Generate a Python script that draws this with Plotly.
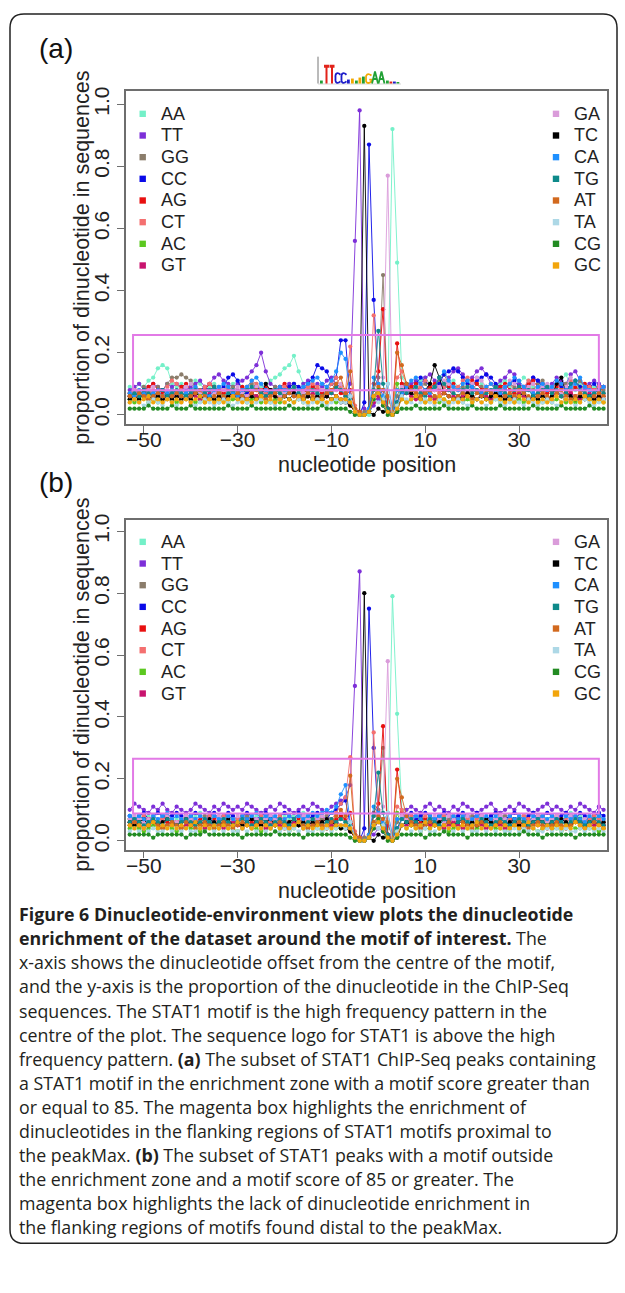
import plotly.graph_objects as go

W, H = 625, 1293

# ---------------- data ----------------
positions = list(range(-53, 49))  # nucleotide offsets
dinucs = ["AA", "TT", "GG", "CC", "AG", "CT", "AC", "GT",
          "GA", "TC", "CA", "TG", "AT", "TA", "CG", "GC"]
colors = ["#74F0C8", "#7D2FD8", "#8B7D6B", "#0A0AE8", "#E81010", "#F47070", "#5CC820", "#C8146E",
          "#DA9CDA", "#000000", "#1E90FF", "#0E8A8A", "#D2691E", "#ADD8E6", "#228B22", "#F2A50C"]

# panel (a): proportion x100
AA_a = [9,8,10,9,11,12,15,16,15,10, 9,10,8,9,11,10,8,9,10,9, 8,9,10,11,9,8,9,10,9,10, 11,12,13,15,16,19,14,10,9,8, 9,10,9,8,10,9,
        7,5,2,0,0,0,4,6,5,4,92,49,12,
        10,9,8,11,12,10,9,8,9,10, 11,9,8,10,9,12,10,9,8,9, 10,11,9,8,10,12,11,9,8,10, 9,8,10,11,13,9,8,10,9,8, 9,10,9]
TT_a = [8,9,10,8,9,10,9,8,10,9, 10,9,8,9,10,11,9,10,12,13, 11,10,9,10,11,12,14,16,20,14, 10,9,8,9,10,9,8,10,11,9, 10,9,11,12,10,9,
        6,10,56,98,2,1,3,5,4,6,2,2,8,
        9,10,11,10,12,13,11,10,9,12, 14,15,13,11,12,14,15,13,10,9, 11,12,14,13,10,9,10,12,11,10, 9,10,12,11,10,13,14,11,9,10, 11,10,9]
GG_a = [7,8,7,9,8,7,9,8,10,12, 12,13,12,11,9,8,7,8,9,8, 7,8,9,8,7,9,10,9,8,7, 8,9,8,7,9,10,8,7,8,9, 8,7,9,10,8,9,
        8,5,1,0,1,2,8,12,45,2,1,6,10,
        9,8,7,9,10,8,9,11,13,10, 9,8,9,7,8,10,9,8,7,9, 8,9,10,9,8,7,9,8,10,11, 9,8,7,9,10,8,9,11,9,8, 8,9,8]
CC_a = [6,7,6,8,7,6,7,8,7,6, 7,8,7,6,7,8,9,8,7,8, 9,12,13,11,8,7,8,9,8,7, 8,7,9,8,9,10,9,8,10,12, 16,15,14,10,12,24,
        24,5,1,0,4,87,37,10,3,2,1,4,8,
        9,8,10,12,11,9,8,10,13,14, 15,14,12,10,9,11,12,13,12,10, 9,8,10,11,9,8,10,12,11,9, 8,9,10,9,8,10,11,9,8,9, 10,8,9]
AG_a = [7,8,6,7,9,10,8,7,6,8, 7,9,10,8,7,6,8,10,9,8, 7,8,6,7,9,8,7,6,8,9, 8,7,9,10,8,7,6,8,7,9, 8,7,6,8,9,7,
        6,8,2,1,0,1,10,14,34,2,1,23,10,
        8,9,10,7,8,9,10,8,7,9, 10,8,7,9,11,10,8,9,7,8, 9,10,8,7,9,8,10,11,9,8, 7,8,9,10,8,7,9,8,10,9, 8,7,9]
CT_a = [6,7,8,6,7,8,7,6,9,11, 10,8,7,6,8,7,9,10,8,7, 8,9,7,6,8,9,11,10,8,7, 6,8,7,9,8,7,6,8,9,10, 9,8,7,10,12,9,
        8,22,3,1,0,2,32,10,6,1,2,12,14,
        10,8,7,9,11,10,8,7,9,10, 8,9,11,12,10,8,7,9,10,8, 7,9,10,8,7,9,11,10,8,7, 8,9,10,8,9,11,10,8,7,9, 8,9,7]
AC_a = [5,4,5,6,4,5,4,5,6,5, 4,5,6,5,4,5,4,6,5,4, 5,4,5,6,5,4,5,6,4,5, 4,5,4,6,5,4,5,4,6,5, 4,5,6,5,4,5,
        5,4,1,0,0,1,6,8,5,1,0,10,5,
        4,5,6,5,4,5,6,4,5,4, 5,6,4,5,4,5,6,5,4,5, 4,5,6,4,5,4,5,6,5,4, 5,4,5,6,4,5,4,5,6,5, 4,5,4]
GT_a = [6,5,7,6,5,6,7,5,6,7, 6,5,6,7,6,5,6,7,8,6, 5,6,7,6,5,6,7,6,5,6, 7,6,5,6,7,8,6,5,6,7, 6,5,6,7,6,5,
        5,3,1,0,0,1,4,6,8,1,0,2,6,
        7,6,5,6,7,6,5,6,7,8, 6,5,6,7,6,5,7,6,5,6, 7,6,5,6,7,6,5,6,7,6, 5,6,7,6,5,7,6,5,6,7, 6,5,6]
GA_a = [7,8,6,7,8,9,7,6,8,7, 8,7,9,10,8,7,6,8,7,9, 8,7,8,9,7,6,8,9,10,8, 7,8,6,7,8,9,8,7,6,8, 7,8,9,7,8,10,
        6,4,1,0,0,1,5,8,12,77,1,2,9,
        8,7,9,10,8,7,8,9,11,10, 9,8,7,9,10,12,11,9,8,7, 8,9,11,10,8,7,9,10,8,9, 10,9,8,7,9,12,10,8,9,8, 7,8,9]
TC_a = [5,6,5,7,6,5,6,5,6,5, 6,5,6,5,7,6,5,6,5,6, 5,6,7,5,6,5,6,5,6,10, 8,6,5,6,5,7,6,5,6,5, 6,5,6,5,6,4,
        4,3,1,0,93,1,0,2,1,1,0,1,6,
        10,7,6,5,8,10,16,12,7,6, 5,6,5,7,6,5,6,5,6,7, 6,5,6,5,6,7,5,6,5,6, 5,6,10,12,7,6,5,6,5,6, 5,6,5]
CA_a = [7,6,8,7,6,7,8,6,7,8, 7,6,7,8,9,8,7,6,8,9, 10,9,7,6,8,9,11,12,10,8, 7,8,9,8,7,6,8,9,10,11, 12,10,9,11,14,20,
        18,6,1,0,0,2,12,10,6,10,2,8,7,
        9,11,12,10,8,7,9,12,14,11, 9,8,10,11,9,8,7,9,10,8, 7,9,10,12,11,9,8,7,9,10, 8,9,11,10,8,9,10,12,9,8, 7,8,9]
TG_a = [6,7,6,8,7,6,7,8,6,7, 8,7,6,7,8,6,7,8,9,7, 6,7,8,7,6,8,9,8,7,6, 7,8,7,6,8,9,7,6,7,8, 7,6,8,7,9,8,
        6,5,1,0,0,1,8,27,10,2,0,4,8,
        7,8,9,7,6,8,9,12,10,8, 7,6,8,9,7,8,6,7,8,9, 8,7,6,8,9,7,8,6,7,8, 9,7,8,6,7,10,11,8,7,6, 7,8,7]
AT_a = [6,5,7,6,5,6,7,6,5,6, 7,6,5,6,7,8,6,5,6,7, 6,5,6,7,6,5,7,8,6,5, 6,7,5,6,7,6,5,6,7,6, 5,6,7,8,10,12,
        7,14,2,1,0,1,6,9,8,6,1,20,16,
        10,8,7,6,7,8,6,5,7,6, 5,6,7,6,5,7,6,8,7,6, 5,6,7,6,8,7,6,5,6,7, 6,5,7,8,6,5,6,7,6,5, 6,7,6]
TA_a = [4,5,4,3,4,5,4,3,5,4, 3,4,5,4,3,4,5,4,3,4, 5,4,3,4,5,4,3,4,5,4, 4,3,5,4,3,4,5,4,3,4, 5,4,3,4,5,4,
        4,6,1,0,0,1,5,4,5,10,0,3,6,
        5,4,3,4,5,4,3,5,4,3, 4,5,4,3,4,5,4,3,4,5, 4,3,4,5,4,3,5,4,3,4, 5,4,3,4,5,4,3,4,5,4, 3,4,5]
CG_a = [2,2,2,2,3,2,2,2,2,3, 2,2,2,3,2,2,2,2,2,2, 2,3,2,2,2,2,3,2,2,2, 2,2,2,2,3,2,2,2,2,2, 2,3,2,2,2,2,
        2,1,0,0,0,1,5,8,3,0,0,1,2,
        2,2,3,2,2,2,2,2,3,2, 2,2,2,2,3,2,2,2,2,2, 3,2,2,2,2,2,2,3,2,2, 2,2,2,3,2,2,2,2,2,3, 2,2,2]
GC_a = [4,5,4,5,6,4,5,4,5,4, 5,4,5,4,5,6,4,5,4,5, 4,5,6,5,4,5,4,5,6,4, 5,4,5,4,5,4,6,5,4,5, 4,5,4,5,6,5,
        5,4,1,0,0,1,6,7,4,1,0,2,5,
        4,5,6,5,4,5,4,6,5,4, 5,4,5,6,4,5,4,5,4,6, 5,4,5,4,6,5,4,5,4,5, 4,5,6,4,5,4,5,4,6,5, 4,5,4]

# panel (b): proportion x100
AA_b = [7,8,7,6,8,7,9,8,7,8, 7,6,8,7,8,9,7,8,7,6, 8,7,8,7,6,8,7,8,9,7, 8,7,6,8,7,8,7,9,8,7, 8,7,8,9,8,7,
        6,5,2,0,0,1,4,6,5,4,79,41,10,
        8,7,8,9,7,8,7,6,8,7, 8,7,9,8,7,8,6,7,8,9, 7,8,7,6,8,7,8,9,7,8, 7,8,6,7,8,9,7,8,7,8, 7,8,7]
TT_b = [10,12,11,10,9,11,10,12,10,9, 11,10,9,10,12,11,10,9,11,10, 12,11,10,11,10,12,11,10,9,10, 11,10,12,11,10,9,10,11,10,12, 11,10,9,11,12,13,
        14,18,50,87,1,1,2,4,3,5,2,2,8,
        10,11,10,9,11,12,10,11,10,9, 11,10,12,11,10,9,10,11,12,10, 9,10,11,10,12,11,10,9,10,11, 12,10,11,10,9,11,10,12,11,10, 9,11,10]
GG_b = [7,6,7,8,6,7,6,7,8,7, 6,7,8,7,6,7,8,6,7,6, 7,8,7,6,7,8,7,6,7,8, 6,7,6,7,8,7,6,7,8,7, 6,7,8,7,6,8,
        7,5,1,0,1,2,8,10,30,2,1,6,8,
        7,6,7,8,7,6,7,8,6,7, 8,7,6,7,8,7,6,7,8,6, 7,8,7,6,7,8,6,7,8,7, 6,7,8,7,6,7,8,7,6,7, 8,7,6]
CC_b = [8,7,8,9,7,8,9,8,7,8, 9,8,7,8,9,8,7,8,9,7, 8,9,8,7,8,9,8,7,8,9, 8,7,8,9,8,7,9,8,7,8, 9,8,7,9,10,12,
        13,5,1,0,4,75,30,8,3,2,1,4,7,
        8,9,7,8,9,8,7,8,9,8, 7,8,9,8,7,9,8,7,8,9, 8,7,8,9,8,7,8,9,7,8, 9,8,7,8,9,8,7,9,8,7, 8,9,8]
AG_b = [6,7,5,6,7,6,5,7,6,5, 6,7,6,5,6,7,5,6,7,6, 5,6,7,6,5,7,6,5,6,7, 6,5,7,6,5,6,7,6,5,6, 7,6,5,6,7,8,
        7,9,2,1,0,1,9,12,37,2,1,23,9,
        6,7,5,6,7,6,5,7,6,5, 6,7,6,5,7,6,5,6,7,6, 5,6,7,6,5,6,7,5,6,7, 6,5,6,7,6,5,7,6,5,6, 7,6,5]
CT_b = [7,6,7,8,6,7,6,7,8,7, 6,7,8,6,7,6,7,8,6,7, 8,7,6,7,8,6,7,6,8,7, 6,7,8,7,6,7,8,6,7,6, 7,8,6,7,9,12,
        14,27,3,1,0,2,35,9,6,1,2,11,10,
        7,8,6,7,8,7,6,7,8,6, 7,6,8,7,6,7,8,7,6,7, 8,6,7,6,7,8,7,6,7,8, 6,7,8,6,7,6,8,7,6,7, 8,7,6]
AC_b = [4,5,4,3,4,5,4,4,5,4, 3,4,5,4,4,3,4,5,4,4, 5,4,4,3,4,5,4,4,3,4, 4,5,4,4,3,4,5,4,4,5, 4,3,4,5,4,4,
        5,4,1,0,0,1,6,7,5,1,0,9,5,
        4,5,4,3,4,4,5,4,4,3, 4,5,4,4,3,4,5,4,5,4, 4,3,4,5,4,4,5,4,3,4, 5,4,4,3,4,5,4,4,5,4, 4,3,4]
GT_b = [5,6,5,4,5,6,5,4,5,6, 5,4,5,6,5,5,4,5,6,5, 4,5,6,5,4,5,5,6,5,4, 5,6,5,4,5,6,5,4,5,5, 6,5,4,5,6,5,
        5,3,1,0,0,1,4,6,7,1,0,2,5,
        5,6,5,4,5,5,6,5,4,5, 6,5,4,5,6,5,5,4,5,6, 5,4,5,6,5,4,5,6,5,5, 4,5,6,5,4,5,6,5,4,5, 5,6,5]
GA_b = [7,8,7,6,7,8,7,6,8,7, 6,7,8,7,6,8,7,7,6,8, 7,6,7,8,7,6,8,7,6,7, 8,7,6,7,8,7,6,8,7,6, 7,8,7,6,8,9,
        8,5,1,0,0,1,5,8,11,58,1,2,8,
        7,6,8,7,6,7,8,7,6,8, 7,6,7,8,7,6,8,7,6,7, 8,7,6,7,8,7,6,7,8,7, 6,7,8,7,6,8,7,6,7,8, 7,6,7]
TC_b = [6,5,6,7,5,6,5,6,7,6, 5,6,7,5,6,5,6,7,6,5, 6,7,5,6,5,6,7,6,5,6, 7,5,6,5,6,7,5,6,5,6, 5,6,7,6,5,4,
        4,3,1,0,80,1,0,2,1,1,0,1,5,
        6,5,6,7,5,6,5,6,7,6, 5,6,7,5,6,5,6,7,6,5, 6,5,6,7,5,6,5,6,7,6, 5,6,5,7,6,5,6,7,5,6, 6,5,6]
CA_b = [8,7,8,7,6,8,7,8,9,7, 8,7,6,8,7,8,7,6,8,7, 7,8,7,6,8,7,8,9,7,8, 7,8,6,7,8,7,8,7,8,9, 8,9,10,9,11,15,
        18,6,1,0,0,2,11,9,6,9,2,7,7,
        8,7,8,7,6,8,7,8,7,6, 8,7,8,6,7,8,7,8,7,8, 7,6,8,7,8,7,6,8,7,8, 7,8,7,6,8,7,8,7,6,8, 7,8,7]
TG_b = [6,7,6,5,6,7,6,5,7,6, 5,6,7,6,5,6,7,6,5,6, 7,6,5,6,7,6,5,6,7,6, 5,6,7,6,5,7,6,5,6,7, 6,5,6,7,6,7,
        6,5,1,0,0,1,8,22,9,2,0,4,7,
        6,7,6,5,6,7,6,5,7,6, 5,6,7,6,5,6,7,6,5,6, 7,6,5,6,7,6,5,6,7,6, 5,6,7,6,5,6,7,6,5,6, 7,6,5]
AT_b = [5,6,5,4,5,6,5,4,5,6, 5,4,6,5,4,5,6,5,4,5, 6,5,4,5,6,5,4,5,6,5, 4,5,6,5,4,5,6,5,4,5, 6,5,4,6,8,10,
        8,21,2,1,0,1,6,8,7,6,1,20,14,
        8,6,5,4,5,6,5,4,5,6, 5,4,6,5,4,5,6,5,4,5, 6,5,4,5,6,5,4,5,6,5, 4,5,6,5,4,5,6,5,4,5, 6,5,4]
TA_b = [3,4,3,4,3,4,3,3,4,3, 4,3,4,3,3,4,3,4,3,4, 3,4,3,3,4,3,4,3,4,3, 4,3,3,4,3,4,3,4,3,3, 4,3,4,3,4,5,
        4,6,1,0,0,1,5,4,5,9,0,3,5,
        4,3,4,3,4,3,3,4,3,4, 3,4,3,4,3,3,4,3,4,3, 4,3,3,4,3,4,3,4,3,3, 4,3,4,3,4,3,3,4,3,4, 3,4,3]
CG_b = [2,2,2,2,2,1,2,2,2,2, 2,2,1,2,2,2,3,2,2,2, 2,2,2,2,1,2,2,2,2,2, 2,3,2,2,2,2,2,1,2,2, 2,2,2,2,2,2,
        2,1,0,0,0,1,4,7,3,0,0,1,2,
        2,2,2,2,1,2,2,2,3,2, 2,2,2,1,2,2,2,2,2,2, 2,2,2,2,2,3,2,2,2,1, 2,2,2,2,2,2,1,2,2,2, 2,2,2]
GC_b = [5,4,5,4,5,6,4,5,4,5, 4,5,4,5,6,4,5,4,5,4, 5,4,5,6,4,5,4,5,4,5, 4,5,4,5,4,5,6,4,5,4, 5,4,5,4,5,5,
        5,4,1,0,0,1,5,6,4,1,0,2,5,
        4,5,4,5,6,4,5,4,5,4, 5,4,5,4,5,6,4,5,4,5, 4,5,4,5,4,5,6,4,5,4, 5,4,5,4,5,4,6,5,4,5, 4,5,4]

series_a = [AA_a, TT_a, GG_a, CC_a, AG_a, CT_a, AC_a, GT_a, GA_a, TC_a, CA_a, TG_a, AT_a, TA_a, CG_a, GC_a]
series_b = [AA_b, TT_b, GG_b, CC_b, AG_b, CT_b, AC_b, GT_b, GA_b, TC_b, CA_b, TG_b, AT_b, TA_b, CG_b, GC_b]
for s in series_a + series_b:
    assert len(s) == len(positions), len(s)

# highlight boxes (x from, x to, y from, y to)
box_a = (-52.3, 47.0, 0.079, 0.257)
box_b = (-52.3, 47.0, 0.088, 0.265)

x_ticks = [-50, -30, -10, 10, 30]
y_ticks = [0.0, 0.2, 0.4, 0.6, 0.8, 1.0]

caption = [
    "<b>Figure 6 Dinucleotide-environment view plots the dinucleotide</b>",
    "<b>enrichment of the dataset around the motif of interest.</b> The",
    "x-axis shows the dinucleotide offset from the centre of the motif,",
    "and the y-axis is the proportion of the dinucleotide in the ChIP-Seq",
    "sequences. The STAT1 motif is the high frequency pattern in the",
    "centre of the plot. The sequence logo for STAT1 is above the high",
    "frequency pattern. <b>(a)</b> The subset of STAT1 ChIP-Seq peaks containing",
    "a STAT1 motif in the enrichment zone with a motif score greater than",
    "or equal to 85. The magenta box highlights the enrichment of",
    "dinucleotides in the flanking regions of STAT1 motifs proximal to",
    "the peakMax. <b>(b)</b> The subset of STAT1 peaks with a motif outside",
    "the enrichment zone and a motif score of 85 or greater. The",
    "magenta box highlights the lack of dinucleotide enrichment in",
    "the flanking regions of motifs found distal to the peakMax.",
]

# ---------------- geometry helpers ----------------
def px(x):
    return x / W

def py(y):
    return 1 - y / H

AXFONT = "Liberation Sans, Arial, sans-serif"
PLOT_L, PLOT_R = 126, 607.3
panels = [
    dict(top=86, bot=420.5, yr=[-0.029, 1.041], data=series_a, box=box_a, ax="", label="(a)", lab_y=43),
    dict(top=516.7, bot=849, yr=[-0.029, 1.038], data=series_b, box=box_b, ax="2", label="(b)", lab_y=479),
]

fig = go.Figure()
shapes = []
annotations = []

for p in panels:
    xa = "x" + p["ax"]
    ya = "y" + p["ax"]
    for name, col, vals in zip(dinucs, colors, p["data"]):
        fig.add_trace(go.Scatter(
            x=positions, y=[v / 100 for v in vals], mode="lines+markers",
            line=dict(color=col, width=0.9), marker=dict(color=col, size=4.3),
            name=name, showlegend=False, xaxis=xa, yaxis=ya, hoverinfo="skip"))
    b = p["box"]
    shapes.append(dict(type="rect", xref=xa, yref=ya, x0=b[0], x1=b[1], y0=b[2], y1=b[3],
                       line=dict(color="#E27AE6", width=2), fillcolor="rgba(0,0,0,0)", layer="above"))
    # legend (two columns inside plot)
    for i in range(8):
        for col_i, (sq_x, tx_x) in enumerate([(142.7, 159.3), (556, 571.7)]):
            k = i + 8 * col_i
            yy = p["top"] + 22.5 + 21.8 * i
            shapes.append(dict(type="rect", xref="paper", yref="paper",
                               x0=px(sq_x - 3.2), x1=px(sq_x + 3.2), y0=py(yy + 3.2), y1=py(yy - 3.2),
                               fillcolor=colors[k], line=dict(width=0)))
            annotations.append(dict(text=dinucs[k], xref="paper", yref="paper", x=px(tx_x), y=py(yy),
                                    xanchor="left", yanchor="middle", showarrow=False,
                                    font=dict(family=AXFONT, size=18, color="#222222")))
    mid = (p["top"] + p["bot"]) / 2
    annotations.append(dict(text="proportion of dinucleotide in sequences", xref="paper", yref="paper",
                            x=px(82), y=py(mid), textangle=-90, showarrow=False,
                            xanchor="center", yanchor="middle",
                            font=dict(family=AXFONT, size=21.5, color="#222222")))
    annotations.append(dict(text="nucleotide position", xref="paper", yref="paper",
                            x=px((PLOT_L + PLOT_R) / 2), y=py(p["bot"] + 41.5), showarrow=False,
                            xanchor="center", yanchor="middle",
                            font=dict(family=AXFONT, size=21.5, color="#222222")))
    annotations.append(dict(text=p["label"], xref="paper", yref="paper", x=px(56), y=py(p["lab_y"]),
                            showarrow=False, xanchor="center", yanchor="middle",
                            font=dict(family=AXFONT, size=28, color="#111111")))

# ---------------- sequence logo (drawn glyphs) ----------------
BASE = 78
def T_path(x0, x1, top, bot):
    xm = (x0 + x1) / 2
    sw = (x1 - x0) * 0.2
    bar = top + (bot - top) * 0.16
    pts = [(x0, top), (x1, top), (x1, bar), (xm + sw, bar), (xm + sw, bot), (xm - sw, bot), (xm - sw, bar), (x0, bar)]
    return "M " + " L ".join(f"{px(a)},{py(b)}" for a, b in pts) + " Z"

def C_path(x0, x1, top, bot, g=False):
    s = (f"M {px(x1)},{py(top + (bot-top)*0.2)} C {px(x0 + (x1-x0)*0.3)},{py(top - 1)} "
         f"{px(x0 - 0.5)},{py(top + 1)} {px(x0)},{py((top+bot)/2)} "
         f"C {px(x0 - 0.5)},{py(bot - 1)} {px(x0 + (x1-x0)*0.3)},{py(bot + 1)} {px(x1)},{py(bot - (bot-top)*0.2)}")
    if g:
        s += f" L {px(x1)},{py((top+bot)/2 + 1)} L {px((x0+x1)/2 + 0.5)},{py((top+bot)/2 + 1)}"
    return s

def A_path(x0, x1, top, bot):
    xm = (x0 + x1) / 2
    ym = top + (bot - top) * 0.62
    return (f"M {px(x0)},{py(bot)} L {px(xm)},{py(top)} L {px(x1)},{py(bot)} "
            f"M {px(x0 + (x1-x0)*0.25)},{py(ym)} L {px(x1 - (x1-x0)*0.25)},{py(ym)}")

RED, BLUE, ORG, GRN = "#E2231A", "#1C1CC8", "#F2A900", "#21A035"
shapes.append(dict(type="line", xref="paper", yref="paper", x0=px(318), x1=px(318), y0=py(51), y1=py(BASE),
                   line=dict(color="#777777", width=1)))
shapes.append(dict(type="line", xref="paper", yref="paper", x0=px(318), x1=px(401), y0=py(BASE + 0.5), y1=py(BASE + 0.5),
                   line=dict(color="#BBBBBB", width=0.6)))
shapes.append(dict(type="path", xref="paper", yref="paper", path=T_path(324, 329, 59, BASE), fillcolor=RED, line=dict(width=0)))
shapes.append(dict(type="path", xref="paper", yref="paper", path=T_path(329.5, 334.5, 59, BASE), fillcolor=RED, line=dict(width=0)))
shapes.append(dict(type="path", xref="paper", yref="paper", path=C_path(335.5, 340.5, 67, BASE), line=dict(color=BLUE, width=1.8)))
shapes.append(dict(type="path", xref="paper", yref="paper", path=C_path(341.5, 346.5, 67, BASE), line=dict(color=BLUE, width=1.8)))
shapes.append(dict(type="path", xref="paper", yref="paper", path=C_path(366, 371.5, 68, BASE, g=True), line=dict(color=ORG, width=1.8)))
shapes.append(dict(type="path", xref="paper", yref="paper", path=A_path(372, 378, 66, BASE), line=dict(color=GRN, width=1.8)))
shapes.append(dict(type="path", xref="paper", yref="paper", path=A_path(378.5, 384.5, 66, BASE), line=dict(color=GRN, width=1.8)))
small = [(320, 3, GRN), (347, 4, BLUE), (351, 5, ORG), (355, 3, GRN), (358.5, 6, ORG), (362, 7, GRN),
         (386, 3, GRN), (389.5, 2, RED), (393, 2, BLUE), (396.5, 1.5, GRN)]
for sx, sh, sc in small:
    shapes.append(dict(type="rect", xref="paper", yref="paper", x0=px(sx), x1=px(sx + 2.8),
                       y0=py(BASE), y1=py(BASE - sh), fillcolor=sc, line=dict(width=0)))

# ---------------- figure border ----------------
L_, R_, T_, B_ = 10, 617, 8, 1245
r = 14
border = (f"M {px(L_)},{py(B_ - r)} L {px(L_)},{py(T_ + r)} Q {px(L_)},{py(T_)} {px(L_ + r)},{py(T_)} "
          f"L {px(R_ - r)},{py(T_)} Q {px(R_)},{py(T_)} {px(R_)},{py(T_ + r)} L {px(R_)},{py(B_ - r)} "
          f"Q {px(R_)},{py(B_)} {px(R_ - r)},{py(B_)} L {px(L_ + r)},{py(B_)} Q {px(L_)},{py(B_)} {px(L_)},{py(B_ - r)} Z")
shapes.append(dict(type="path", xref="paper", yref="paper", path=border, line=dict(color="#222222", width=1.5)))

# ---------------- caption ----------------
for i, line in enumerate(caption):
    annotations.append(dict(text=line, xref="paper", yref="paper", x=px(17), y=py(914 + 24.2 * i),
                            xanchor="left", yanchor="middle", showarrow=False,
                            font=dict(family="Open Sans, sans-serif", size=17.8, color="#231F20")))

# ---------------- axes ----------------
axis_common = dict(showline=True, mirror=True, linecolor="#6E6E6E", linewidth=1.5, ticks="outside",
                   ticklen=7, tickwidth=1.3, tickcolor="#6E6E6E", showgrid=False, zeroline=False,
                   tickfont=dict(family=AXFONT, size=21, color="#222222"))
layout_axes = {}
for p in panels:
    layout_axes["xaxis" + p["ax"]] = dict(axis_common, domain=[px(PLOT_L), px(PLOT_R)], range=[-53.8, 48.8],
                                          tickvals=x_ticks, anchor="y" + p["ax"], ticklabelstandoff=-11)
    layout_axes["yaxis" + p["ax"]] = dict(axis_common, domain=[py(p["bot"]), py(p["top"])], range=p["yr"],
                                          tickvals=y_ticks, tickformat=".1f", tickangle=-90,
                                          anchor="x" + p["ax"])

fig.update_layout(width=W, height=H, margin=dict(l=0, r=0, t=0, b=0), paper_bgcolor="white",
                  plot_bgcolor="white", shapes=shapes, annotations=annotations, showlegend=False,
                  **layout_axes)

fig.write_html("out.html")
